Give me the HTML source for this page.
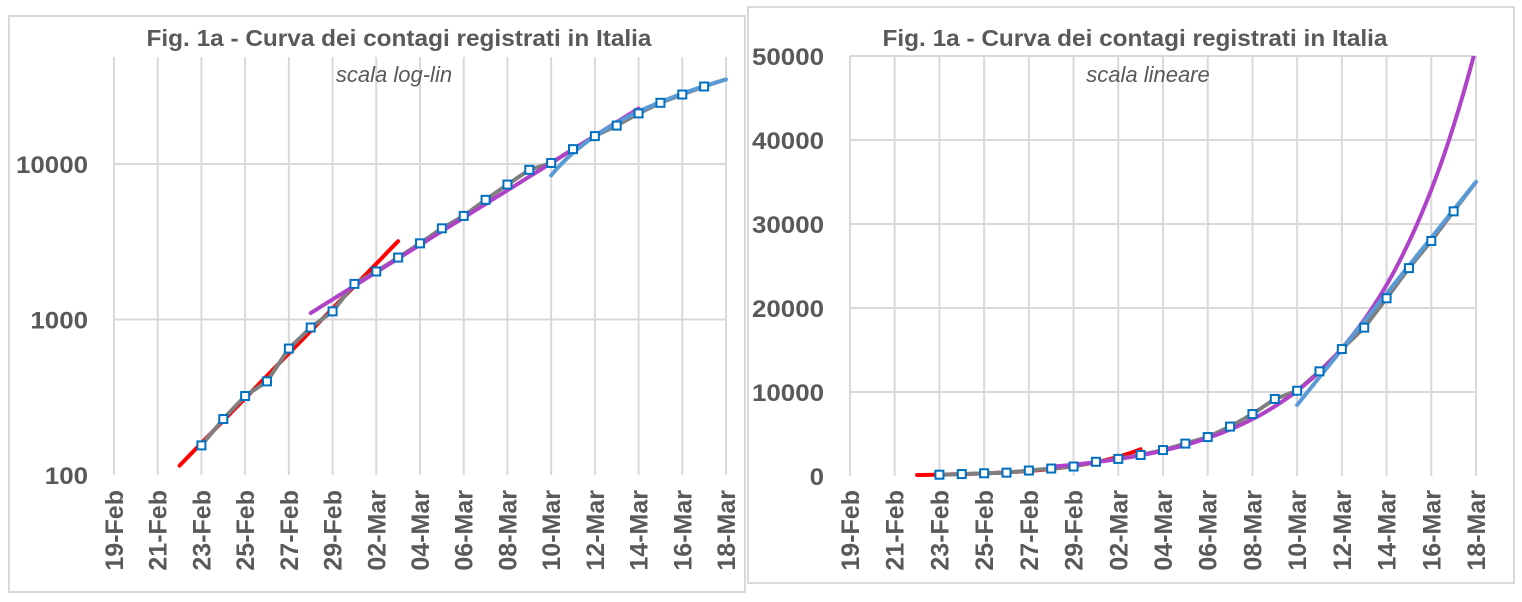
<!DOCTYPE html>
<html><head><meta charset="utf-8"><style>
body{margin:0;background:#fff;}
svg{display:block;font-family:"Liberation Sans",sans-serif;}
</style></head><body>
<svg id="s" width="1522" height="602" xmlns="http://www.w3.org/2000/svg"></svg>
<script>
const S=document.getElementById('s');let h='';
const data=[null,null,null,null,155,229,322,400,650,888,1128,1694,2036,2502,3089,3858,4636,5883,7375,9172,10149,12462,15113,17660,21157,24747,27980,31506,35000];
const labels=['19-Feb','21-Feb','23-Feb','25-Feb','27-Feb','29-Feb','02-Mar','04-Mar','06-Mar','08-Mar','10-Mar','12-Mar','14-Mar','16-Mar','18-Mar'];
h+='<rect x="9" y="16" width="736" height="576" fill="none" stroke="#d9d9d9" stroke-width="2"/>';
h+='<rect x="748" y="7" width="766" height="576" fill="none" stroke="#d9d9d9" stroke-width="2"/>';
function chart(x0,x1,yT,yB,Y,hlines,ylabels,tx,sub,stx,purpleEnd){
  const dx=(x1-x0)/28;const X=d=>x0+d*dx;
  for(let i=0;i<=14;i++){h+=`<line x1="${X(2*i)}" y1="${yT}" x2="${X(2*i)}" y2="${yB}" stroke="#d9d9d9" stroke-width="2"/>`;
    h+=`<text transform="translate(${X(2*i)+9},490) rotate(-90)" text-anchor="end" font-size="25" font-weight="bold" fill="#595959">${labels[i]}</text>`;}
  hlines.forEach(v=>{h+=`<line x1="${x0}" y1="${Y(v)}" x2="${x1}" y2="${Y(v)}" stroke="#d9d9d9" stroke-width="2"/>`});
  ylabels.forEach(v=>{const s=String(v);h+=`<text x="${x0-26}" y="${Y(v)+9}" text-anchor="end" font-size="24" font-weight="bold" fill="#595959" textLength="${s.length*14.4}" lengthAdjust="spacingAndGlyphs">${s}</text>`});
  h+=`<text x="${tx}" y="46" text-anchor="middle" font-size="23" font-weight="bold" fill="#595959" textLength="505" lengthAdjust="spacingAndGlyphs">Fig. 1a - Curva dei contagi registrati in Italia</text>`;
  h+=`<text x="${stx}" y="82" text-anchor="middle" font-size="22" font-style="italic" fill="#595959">${sub}</text>`;
  h+=`<defs><clipPath id="c${x0}"><rect x="${x0}" y="${yT}" width="${x1-x0+3}" height="${yB-yT+5}"/></clipPath></defs><g clip-path="url(#c${x0})">`;
  const path=(f,a,b,col,w)=>{let p='';for(let d=a;d<=b+1e-9;d+=0.25){p+=(p?'L':'M')+X(d).toFixed(1)+' '+Y(f(d)).toFixed(1);}h+=`<path d="${p}" fill="none" stroke="${col}" stroke-width="${w}" stroke-linecap="round"/>`;};
  path(d=>115*Math.pow(1.394,d-3),3,13,'#ff0000',4);
  let g='';for(let d=4;d<=28;d++){g+=(g?'L':'M')+X(d).toFixed(1)+' '+Y(data[d]).toFixed(1);}
  h+=`<path d="${g}" fill="none" stroke="#7f7f7f" stroke-width="4"/>`;
  path(d=>1100*Math.pow(1.2238,d-9),9,purpleEnd,'#b042c8',4);
  path(d=>8450+3320*(d-20),20,28,'#5b9bd5',4);
  h+='</g>';
  for(let d=4;d<=27;d++){h+=`<rect x="${X(d)-4}" y="${Y(data[d])-4}" width="8" height="8" fill="#fff" stroke="#0070c0" stroke-width="2"/>`;}
}
const YL=v=>475-155.5*(Math.log10(v)-2);
chart(114,726,57,475,YL,[1000,10000],[100,1000,10000],399,'scala log-lin',394,24);
const YR=v=>476-v*0.0084;
chart(850,1476,56,476,YR,[10000,20000,30000,40000,50000],[0,10000,20000,30000,40000,50000],1135,'scala lineare',1148,29);
S.innerHTML=h;
</script>
</body></html>
